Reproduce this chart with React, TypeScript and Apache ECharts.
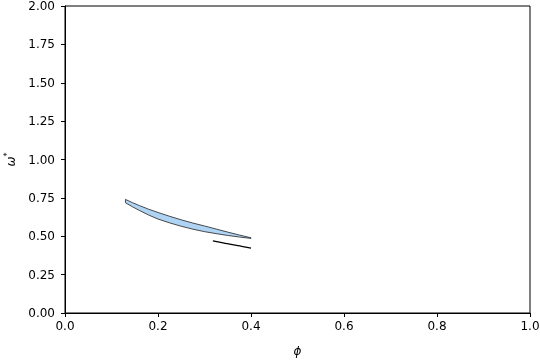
import React, { useEffect, useRef } from "react";
import * as echarts from "echarts";

const upperPhi = [0.13, 0.145, 0.16, 0.18, 0.2, 0.225, 0.25, 0.275, 0.3, 0.325, 0.35, 0.375, 0.4];
const upperOmega = [0.74, 0.719, 0.7, 0.676, 0.655, 0.63, 0.607, 0.586, 0.567, 0.547, 0.527, 0.508, 0.49];
const lowerPhi = [0.13, 0.145, 0.16, 0.18, 0.2, 0.225, 0.25, 0.275, 0.3, 0.325, 0.35, 0.375, 0.4];
const lowerOmega = [0.718, 0.692, 0.668, 0.638, 0.612, 0.587, 0.565, 0.546, 0.53, 0.517, 0.505, 0.495, 0.486];
const linePhi = [0.318, 0.34, 0.36, 0.38, 0.4];
const lineOmega = [0.47, 0.457, 0.445, 0.434, 0.423];

export default function App() {
  const ref = useRef<HTMLDivElement>(null);
  useEffect(() => {
    const chart = echarts.init(ref.current!, null, { renderer: "svg" });
    const polyPts: number[][] = [];
    upperPhi.forEach((p, i) => polyPts.push([p, upperOmega[i]]));
    for (let i = lowerPhi.length - 1; i >= 0; i--) polyPts.push([lowerPhi[i], lowerOmega[i]]);
    const font = "DejaVu Sans";
    chart.setOption({
      animation: false,
      grid: {
        left: 65, right: 10, top: 6, bottom: 47,
        show: true, borderColor: "#000", borderWidth: 1,
        containLabel: false, outerBoundsMode: "none",
      },
      xAxis: {
        type: "value",
        min: 0,
        max: 1,
        interval: 0.2,
        name: "ϕ",
        nameLocation: "middle",
        nameGap: 32,
        nameTextStyle: { fontFamily: font, fontSize: 12, color: "#000", fontStyle: "italic" },
        axisLine: { lineStyle: { color: "#000" } },
        axisTick: { show: true, length: 4, lineStyle: { color: "#000" } },
        axisLabel: { fontFamily: font, fontSize: 12, color: "#000", margin: 7, formatter: (v: number) => v.toFixed(1) },
        splitLine: { show: false },
      },
      yAxis: {
        type: "value",
        min: 0,
        max: 2,
        interval: 0.25,
        name: "{a|ω}{b|*}",
        nameLocation: "middle",
        nameGap: 47,
        nameRotate: 90,
        nameTextStyle: {
          fontFamily: font,
          color: "#000",
          rich: {
            a: { fontFamily: font, fontSize: 12, fontStyle: "italic", color: "#000" },
            b: { fontFamily: font, fontSize: 8, color: "#000", verticalAlign: "top", padding: [0, 0, 7, 0] },
          },
        },
        axisLine: { show: true, lineStyle: { color: "#000" } },
        axisTick: { show: true, length: 4, lineStyle: { color: "#000" } },
        axisLabel: { fontFamily: font, fontSize: 12, color: "#000", margin: 10, formatter: (v: number) => v.toFixed(2) },
        splitLine: { show: false },
      },
      series: [
        {
          type: "custom",
          data: polyPts,
          renderItem: (params: any, api: any) => {
            if (params.dataIndex !== 0) return null;
            const pts = polyPts.map((p) => api.coord(p));
            return {
              type: "polygon",
              shape: { points: pts },
              style: { fill: "#afd3f3", stroke: "#222", lineWidth: 0.8 },
            };
          },
          silent: true,
        },
        {
          type: "line",
          data: linePhi.map((p, i) => [p, lineOmega[i]]),
          showSymbol: false,
          smooth: true,
          lineStyle: { color: "#000", width: 1.3 },
          silent: true,
        },
      ],
    });
    return () => chart.dispose();
  }, []);
  return <div ref={ref} style={{ position: "fixed", left: 0, top: 0, width: 540, height: 360 }} />;
}
